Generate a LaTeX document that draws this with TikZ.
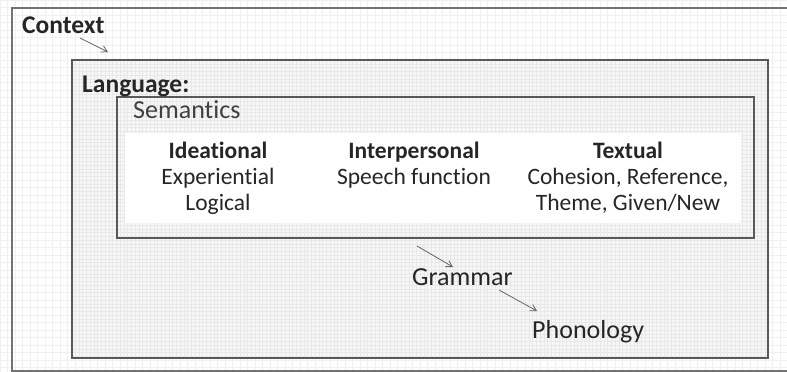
\documentclass[tikz,border=0pt]{standalone}
\usepackage{fontspec}
\setmainfont[Ligatures=NoCommon]{Carlito}
\usetikzlibrary{arrows.meta}
\begin{document}
\begin{tikzpicture}[x=1pt,y=-1pt,
  lbl/.style={inner sep=0pt,anchor=base west,font=\fontsize{26}{30}\selectfont,text=black!85},
  bold/.style={lbl,font=\fontsize{25.5}{30}\selectfont\bfseries},
  col/.style={inner sep=0pt,anchor=base,align=center,text=black!85,font=\fontsize{23.5}{26}\selectfont},
  flow/.style={draw=gray!80!black,line width=0.8pt,-{Straight Barb[length=6pt,width=7pt]}},
  frame/.style={draw=black!65,line width=2.2pt}]
\useasboundingbox (0,0) rectangle (787,372);
\fill[white] (0,0) rectangle (787,372);
% background grid
\draw[gray!12,line width=0.3pt,step=7.5pt] (0,0) grid (787,372);
\begin{scope}
\clip (0,0) rectangle (787,372);
\draw[black!55,line width=1.8pt] (12,8) rectangle (800,371);
\end{scope}
% language box
\fill[gray!6] (72,60) rectangle (768,358);
\draw[gray!18,line width=0.3pt,step=3.75pt] (72,60) grid (768,358);
\draw[frame] (72,60) rectangle (768,358);
% semantics box
\draw[frame] (117,97) rectangle (754,238);
\fill[white] (125,133) rectangle (741,223);
% texts
\node[bold] (context) at (22,33) {Context};
\node[bold] (language) at (82,92) {Language:};
\node[lbl,text=black!75] (semantics) at (133,118) {Semantics};
\node[col] (ideational) at (218,210) {\textbf{Ideational}\\Experiential\\Logical};
\node[col] (interpersonal) at (414,184) {\textbf{Interpersonal}\\Speech function};
\node[col] (textual) at (628,210) {\textbf{Textual}\\Cohesion, Reference,\\Theme, Given/New};
\node[lbl] (grammar) at (412,285) {Grammar};
\node[lbl] (phonology) at (532,338) {Phonology};
% arrows
\coordinate (c1) at (80,38);
\coordinate (c2) at (108,52);
\coordinate (g1) at (417,246);
\coordinate (g2) at (453,267);
\coordinate (p1) at (499,290);
\coordinate (p2) at (537,311);
\draw[flow] (c1) -- (c2);
\draw[flow] (g1) -- (g2);
\draw[flow] (p1) -- (p2);
\end{tikzpicture}
\end{document}
